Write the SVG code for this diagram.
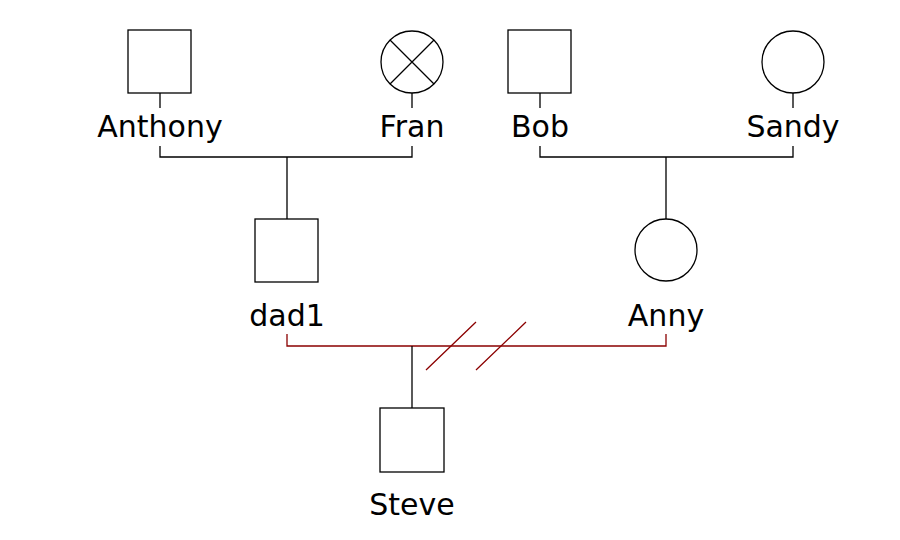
<svg xmlns="http://www.w3.org/2000/svg" width="900" height="540" viewBox="0 0 900 540">
<style>
.s{fill:#fff;stroke:#000;stroke-width:1.3}
.l{fill:none;stroke:#000;stroke-width:1.3}
.r{fill:none;stroke:#8b0000;stroke-width:1.3}
text{font-family:"DejaVu Sans",sans-serif;font-size:30px;fill:#000;text-anchor:middle}
</style>
<rect width="900" height="540" fill="#fff"/>
<g id="connectors">
<path class="l" d="M160 93V108M412 93V108M540 93V108M793 93V108"/>
<path class="l" d="M160 146V157H412V146M287 157V219"/>
<path class="l" d="M540 146V157H793V146M666 157V219"/>
<path class="r" d="M287 334V346H666V334"/>
<path class="l" d="M412 346V408"/>
<path class="r" d="M426 370L476 322M476 370L526 322"/>
</g>
<g id="anthony"><rect class="s" x="128" y="30" width="63" height="63"/><text x="160" y="137">Anthony</text></g>
<g id="fran"><circle class="s" cx="412" cy="62" r="31"/><path class="l" d="M390 40L434 84M434 40L390 84"/><text x="412" y="137">Fran</text></g>
<g id="bob"><rect class="s" x="508" y="30" width="63" height="63"/><text x="540" y="137">Bob</text></g>
<g id="sandy"><circle class="s" cx="793" cy="62" r="31"/><text x="793" y="137">Sandy</text></g>
<g id="dad1"><rect class="s" x="255" y="219" width="63" height="63"/><text x="287" y="326">dad1</text></g>
<g id="anny"><circle class="s" cx="666" cy="250" r="31"/><text x="666" y="326">Anny</text></g>
<g id="steve"><rect class="s" x="380" y="408" width="64" height="64"/><text x="412" y="515">Steve</text></g>
</svg>
